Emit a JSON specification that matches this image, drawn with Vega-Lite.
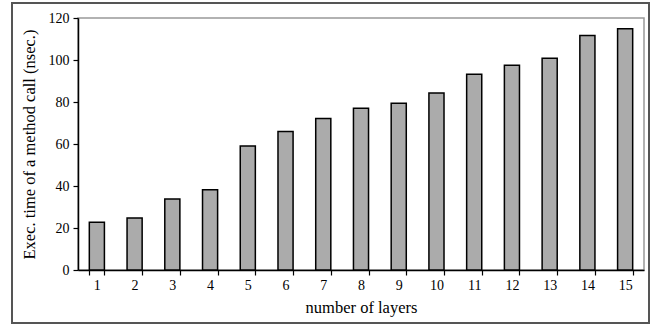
{
  "$schema": "https://vega.github.io/schema/vega-lite/v6.json",
  "width": 566,
  "height": 252,
  "autosize": {"type": "none"},
  "padding": {"left": 78, "top": 18, "right": 10, "bottom": 55},
  "background": "white",
  "config": {
    "font": "Liberation Serif",
    "view": {"stroke": "#999999", "strokeWidth": 1.5}
  },
  "layer": [
    {
      "data": {"values": [{"frame": 1}]},
      "mark": {"type": "rect", "fill": null, "stroke": "#555555", "strokeWidth": 2},
      "encoding": {
        "x": {"value": -66},
        "x2": {"value": 571},
        "y": {"value": -15},
        "y2": {"value": 305}
      }
    },
    {
      "data": {
        "values": [
          {"layers": 1, "time": 22.7},
          {"layers": 2, "time": 24.8},
          {"layers": 3, "time": 33.8},
          {"layers": 4, "time": 38.2},
          {"layers": 5, "time": 59.0},
          {"layers": 6, "time": 65.9},
          {"layers": 7, "time": 72.1},
          {"layers": 8, "time": 77.0},
          {"layers": 9, "time": 79.4},
          {"layers": 10, "time": 84.3},
          {"layers": 11, "time": 93.2},
          {"layers": 12, "time": 97.5},
          {"layers": 13, "time": 100.8},
          {"layers": 14, "time": 111.7},
          {"layers": 15, "time": 114.9}
        ]
      },
      "mark": {"type": "bar", "fill": "#ababab", "stroke": "#000000", "strokeWidth": 1.5},
      "encoding": {
        "x": {
          "field": "layers",
          "type": "ordinal",
          "scale": {"paddingInner": 0.6, "paddingOuter": 0.3},
          "axis": {
            "title": "number of layers",
            "titleFont": "Liberation Serif",
            "titleFontSize": 16.5,
            "titleFontWeight": "normal",
            "titleColor": "#000000",
            "titlePadding": 7,
            "labelAngle": 0,
            "labelFontSize": 14,
            "labelColor": "#000000",
            "labelPadding": 3,
            "tickBand": "extent",
            "tickSize": 5,
            "tickColor": "#000000",
            "tickWidth": 1.2,
            "domainColor": "#000000",
            "domainWidth": 1.5,
            "grid": false
          }
        },
        "y": {
          "field": "time",
          "type": "quantitative",
          "scale": {"domain": [0, 120], "nice": false},
          "axis": {
            "title": "Exec. time of a method call (nsec.)",
            "titleFont": "Liberation Serif",
            "titleFontSize": 16.5,
            "titleFontWeight": "normal",
            "titleColor": "#000000",
            "titlePadding": 11,
            "values": [0, 20, 40, 60, 80, 100, 120],
            "labelFontSize": 14,
            "labelColor": "#000000",
            "labelPadding": 4,
            "tickSize": 5,
            "tickColor": "#000000",
            "tickWidth": 1.2,
            "domainColor": "#000000",
            "domainWidth": 1.5,
            "grid": false
          }
        }
      }
    }
  ]
}
